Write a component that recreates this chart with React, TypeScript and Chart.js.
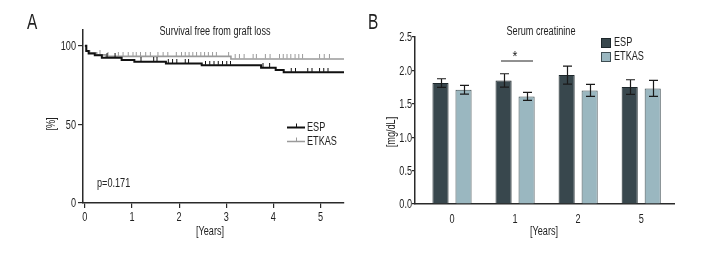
import React, { useEffect, useRef } from "react";
import { Chart, registerables } from "chart.js";
Chart.register(...registerables);

const FONT = "'Liberation Sans', Arial, sans-serif";
const SX = 0.76; // horizontal condensing of the text
const TEXT = "#222";
const AXIS = "#2a2a2a";

// ---------- Panel A: Kaplan-Meier ----------
const espTimes = [0, 0.03, 0.08, 0.21, 0.36, 0.78, 1.05, 1.72, 2.48, 3.74, 4.05, 4.22, 5.5];
const espSurv = [100, 96.6, 95.1, 93.9, 92.3, 91.0, 89.8, 88.7, 87.6, 86.0, 84.6, 83.1, 83.1];
const etkasTimes = [0, 0.03, 0.1, 0.25, 0.45, 3.1, 5.5];
const etkasSurv = [100, 96.8, 95.5, 94.2, 93.2, 91.6, 91.6];
const espCensor = [0.47, 0.64, 1.19, 1.46, 1.53, 1.77, 1.86, 1.95, 2.13, 2.2, 2.56, 2.65, 2.74, 2.83, 2.92, 3.01, 3.09, 3.78, 3.92, 4.38, 4.47, 4.73, 4.82, 4.98, 5.07, 5.16];
const etkasCensor = [0.32, 0.49, 0.71, 0.81, 0.92, 1.02, 1.09, 1.18, 1.29, 1.39, 1.55, 1.66, 1.76, 1.94, 2.05, 2.13, 2.21, 2.29, 2.37, 2.46, 2.54, 2.62, 2.71, 2.79, 3.05, 3.19, 3.28, 3.38, 3.57, 3.64, 3.83, 3.93, 4.13, 4.21, 4.29, 4.37, 4.46, 4.54, 4.62, 4.98, 5.08, 5.19];
const yearTicksA = [0, 1, 2, 3, 4, 5];
const pctTicks = [0, 50, 100];

// ---------- Panel B: Serum creatinine ----------
const creatCategories = ["0", "1", "2", "5"];
const espCreat = [1.81, 1.85, 1.93, 1.75];
const espCreatErr = [0.065, 0.1, 0.135, 0.11];
const etkasCreat = [1.71, 1.61, 1.70, 1.73];
const etkasCreatErr = [0.065, 0.06, 0.09, 0.12];
const creatTicks = [0, 0.5, 1.0, 1.5, 2.0, 2.5];

const ESP_LINE = "#111";
const ETKAS_LINE = "#9a9a9a";
const ESP_BAR = "#38474d";
const ETKAS_BAR = "#9ab7c0";

function survAt(times: number[], surv: number[], t: number) {
  let v = surv[0];
  for (let i = 0; i < times.length; i++) if (times[i] <= t) v = surv[i];
  return v;
}

function tickImg(color: string) {
  const c = document.createElement("canvas");
  c.width = 3;
  c.height = 9;
  const g = c.getContext("2d")!;
  g.fillStyle = color;
  g.fillRect(1, 0, 1, 4);
  return c;
}

function txt(
  ctx: CanvasRenderingContext2D,
  s: string,
  x: number,
  y: number,
  size: number,
  align: CanvasTextAlign = "center",
  baseline: CanvasTextBaseline = "middle",
  rot = 0,
  sx = SX
) {
  ctx.save();
  ctx.translate(x, y);
  if (rot) ctx.rotate(rot);
  ctx.scale(sx, 1);
  ctx.font = `${size}px ${FONT}`;
  ctx.fillStyle = TEXT;
  ctx.textAlign = align;
  ctx.textBaseline = baseline;
  ctx.fillText(s, 0, 0);
  ctx.restore();
}

function makeA(canvas: HTMLCanvasElement) {
  const textPlugin = {
    id: "textA",
    afterDraw(chart: any) {
      const ctx = chart.ctx;
      const xs = chart.scales.x;
      const ys = chart.scales.y;
      // tick labels
      yearTicksA.forEach((v) => txt(ctx, String(v), xs.getPixelForValue(v), 218, 12));
      pctTicks.forEach((v) => txt(ctx, String(v), 76, ys.getPixelForValue(v) + 1, 12, "right"));
      txt(ctx, "A", 27, 29, 22, "left", "alphabetic", 0, 0.7);
      txt(ctx, "Survival free from graft loss", 215, 32, 12);
      txt(ctx, "[Years]", 210, 232, 12);
      txt(ctx, "[%]", 52, 124, 12, "center", "middle", -Math.PI / 2);
      txt(ctx, "p=0.171", 97, 184, 12, "left");
      // legend
      ctx.save();
      ctx.strokeStyle = ESP_LINE;
      ctx.lineWidth = 2;
      ctx.beginPath();
      ctx.moveTo(287, 127.5);
      ctx.lineTo(305, 127.5);
      ctx.stroke();
      ctx.lineWidth = 1;
      ctx.beginPath();
      ctx.moveTo(296.5, 123.5);
      ctx.lineTo(296.5, 127);
      ctx.stroke();
      ctx.strokeStyle = ETKAS_LINE;
      ctx.lineWidth = 1.5;
      ctx.beginPath();
      ctx.moveTo(287, 141.5);
      ctx.lineTo(305, 141.5);
      ctx.stroke();
      ctx.lineWidth = 1;
      ctx.beginPath();
      ctx.moveTo(296.5, 137.5);
      ctx.lineTo(296.5, 141);
      ctx.stroke();
      ctx.restore();
      txt(ctx, "ESP", 307, 127.5, 12, "left");
      txt(ctx, "ETKAS", 307, 141.5, 12, "left");
    },
  };

  return new Chart(canvas, {
    type: "line",
    data: {
      datasets: [
        {
          label: "ESP censored",
          data: espCensor.map((t) => ({ x: t, y: survAt(espTimes, espSurv, t) })),
          showLine: false,
          pointStyle: tickImg(ESP_LINE) as any,
          pointRadius: 3,
          order: 0,
        },
        {
          label: "ESP",
          data: espTimes.map((t, i) => ({ x: t, y: espSurv[i] })),
          borderColor: ESP_LINE,
          borderWidth: 2,
          stepped: true,
          pointRadius: 0,
          order: 1,
        },
        {
          label: "ETKAS censored",
          data: etkasCensor.map((t) => ({ x: t, y: survAt(etkasTimes, etkasSurv, t) })),
          showLine: false,
          pointStyle: tickImg(ETKAS_LINE) as any,
          pointRadius: 3,
          order: 2,
        },
        {
          label: "ETKAS",
          data: etkasTimes.map((t, i) => ({ x: t, y: etkasSurv[i] })),
          borderColor: ETKAS_LINE,
          borderWidth: 1.6,
          stepped: true,
          pointRadius: 0,
          order: 3,
        },
      ],
    },
    options: {
      responsive: false,
      animation: false,
      events: [],
      layout: { padding: { top: 30, right: 16, left: 0, bottom: 0 } },
      plugins: { legend: { display: false }, tooltip: { enabled: false }, title: { display: false } },
      scales: {
        x: {
          type: "linear",
          min: -0.04,
          max: 5.5,
          afterFit: (s: any) => {
            s.height = 61;
          },
          afterBuildTicks: (s: any) => {
            s.ticks = yearTicksA.map((v) => ({ value: v }));
          },
          grid: { display: true, drawOnChartArea: false, drawTicks: true, tickLength: 5, color: AXIS, lineWidth: 1.2 },
          border: { display: true, color: AXIS, width: 1.5 },
          ticks: { display: false },
        },
        y: {
          type: "linear",
          min: 0,
          max: 110,
          afterFit: (s: any) => {
            s.width = 83;
          },
          afterBuildTicks: (s: any) => {
            s.ticks = pctTicks.map((v) => ({ value: v }));
          },
          grid: { display: true, drawOnChartArea: false, drawTicks: true, tickLength: 5, color: AXIS, lineWidth: 1.2 },
          border: { display: true, color: AXIS, width: 1.5 },
          ticks: { display: false },
        },
      },
    },
    plugins: [textPlugin],
  } as any);
}

function makeB(canvas: HTMLCanvasElement) {
  const errors = [espCreatErr, etkasCreatErr];
  const values = [espCreat, etkasCreat];
  const errPlugin = {
    id: "errB",
    afterDatasetsDraw(chart: any) {
      const ctx = chart.ctx;
      const ys = chart.scales.y;
      ctx.save();
      ctx.strokeStyle = "#1a1a1a";
      ctx.lineWidth = 1.2;
      for (let di = 0; di < 2; di++) {
        const meta = chart.getDatasetMeta(di);
        meta.data.forEach((bar: any, i: number) => {
          const v = values[di][i];
          const e = errors[di][i];
          const top = ys.getPixelForValue(v + e);
          const bot = ys.getPixelForValue(v - e);
          const x = Math.round(bar.x) + 0.5;
          ctx.beginPath();
          ctx.moveTo(x, top);
          ctx.lineTo(x, bot);
          ctx.moveTo(x - 4.5, top);
          ctx.lineTo(x + 4.5, top);
          ctx.moveTo(x - 4.5, bot);
          ctx.lineTo(x + 4.5, bot);
          ctx.stroke();
        });
      }
      ctx.restore();
    },
  };
  const textPlugin = {
    id: "textB",
    afterDraw(chart: any) {
      const ctx = chart.ctx;
      const xs = chart.scales.x;
      const ys = chart.scales.y;
      creatCategories.forEach((c, i) => txt(ctx, c, xs.getPixelForValue(i), 220, 12));
      creatTicks.forEach((v) => txt(ctx, v.toFixed(1), 52, ys.getPixelForValue(v) + 1, 12, "right"));
      txt(ctx, "B", 8, 29, 22, "left", "alphabetic", 0, 0.7);
      txt(ctx, "Serum creatinine", 181, 32, 12);
      txt(ctx, "[Years]", 184, 232, 12);
      txt(ctx, "[mg/dL]", 32, 132, 12, "center", "middle", -Math.PI / 2);
      ctx.save();
      // significance
      ctx.strokeStyle = "#222";
      ctx.lineWidth = 1;
      ctx.beginPath();
      ctx.moveTo(141, 61);
      ctx.lineTo(173, 61);
      ctx.stroke();
      // legend
      ctx.fillStyle = ESP_BAR;
      ctx.fillRect(241, 38, 10, 10);
      ctx.strokeStyle = "#1d272b";
      ctx.strokeRect(241.5, 38.5, 9, 9);
      ctx.fillStyle = ETKAS_BAR;
      ctx.fillRect(241, 52, 10, 10);
      ctx.strokeStyle = "#3e4d52";
      ctx.strokeRect(241.5, 52.5, 9, 9);
      ctx.restore();
      txt(ctx, "*", 155, 61, 14, "center", "alphabetic", 0, 0.9);
      txt(ctx, "ESP", 254, 43, 12, "left");
      txt(ctx, "ETKAS", 254, 57, 12, "left");
    },
  };

  return new Chart(canvas, {
    type: "bar",
    data: {
      datasets: [
        {
          label: "ESP",
          data: espCreat.map((v, i) => ({ x: i, y: v })),
          backgroundColor: ESP_BAR,
          borderColor: "#1d272b",
          borderWidth: 1,
          categoryPercentage: 0.73,
          barPercentage: 0.7,
        },
        {
          label: "ETKAS",
          data: etkasCreat.map((v, i) => ({ x: i, y: v })),
          backgroundColor: ETKAS_BAR,
          borderColor: "#3e4d52",
          borderWidth: 1,
          categoryPercentage: 0.73,
          barPercentage: 0.7,
        },
      ],
    },
    options: {
      responsive: false,
      animation: false,
      events: [],
      layout: { padding: { top: 37, right: 46, left: 0, bottom: 0 } },
      plugins: { legend: { display: false }, tooltip: { enabled: false }, title: { display: false } },
      scales: {
        x: {
          type: "linear",
          min: -0.587,
          max: 3.52,
          offset: false,
          afterFit: (s: any) => {
            s.height = 60;
          },
          afterBuildTicks: (s: any) => {
            s.ticks = creatCategories.map((_, i) => ({ value: i }));
          },
          grid: { display: false, drawTicks: false },
          border: { display: true, color: AXIS, width: 1.5 },
          ticks: { display: false },
        },
        y: {
          type: "linear",
          min: 0,
          max: 2.5,
          afterFit: (s: any) => {
            s.width = 55;
          },
          afterBuildTicks: (s: any) => {
            s.ticks = creatTicks.map((v) => ({ value: v }));
          },
          grid: { display: true, drawOnChartArea: false, drawTicks: true, tickLength: 3, color: AXIS, lineWidth: 1.2 },
          border: { display: true, color: AXIS, width: 1.5 },
          ticks: { display: false },
        },
      },
    },
    plugins: [errPlugin, textPlugin],
  } as any);
}

export default function App() {
  const aRef = useRef<HTMLCanvasElement>(null);
  const bRef = useRef<HTMLCanvasElement>(null);
  useEffect(() => {
    const ca = makeA(aRef.current!);
    const cb = makeB(bRef.current!);
    return () => {
      ca.destroy();
      cb.destroy();
    };
  }, []);
  return (
    <div style={{ position: "fixed", left: 0, top: 0, width: 720, height: 264, background: "#fff" }}>
      <canvas ref={aRef} width={360} height={264} style={{ position: "absolute", left: 0, top: 0, width: 360, height: 264 }} />
      <canvas ref={bRef} width={360} height={264} style={{ position: "absolute", left: 360, top: 0, width: 360, height: 264 }} />
    </div>
  );
}
